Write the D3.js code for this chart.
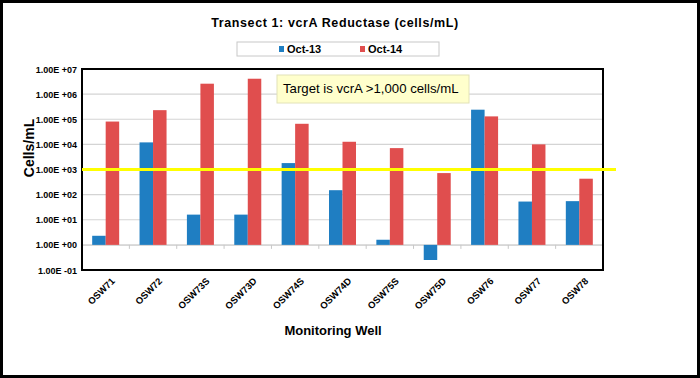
<!DOCTYPE html>
<html><head><meta charset="utf-8">
<script src="https://cdn.jsdelivr.net/npm/d3@7"></script>
<style>body{margin:0;background:#fff}svg{display:block;font-family:"Liberation Sans",Arial,sans-serif}</style>
</head><body><svg id="c" width="700" height="378"></svg>
<script>
const categories = ["OSW71","OSW72","OSW73S","OSW73D","OSW74S","OSW74D","OSW75S","OSW75D","OSW76","OSW77","OSW78"];
const seriesNames = ["Oct-13","Oct-14"];
const oct13 = [2.3, 12000, 16, 16, 1800, 150, 1.6, 0.25, 240000, 53, 55];
const oct14 = [81000, 230000, 2600000, 4100000, 66000, 12700, 7100, 720, 130000, 10000, 430];
const yTicks = [1e-1,1e0,1e1,1e2,1e3,1e4,1e5,1e6,1e7];
const target = 1000;
const colors = ["#1f7ec2","#e04e4e"];

const svg = d3.select("#c");
svg.append("rect").attr("x",1.5).attr("y",1.5).attr("width",697).attr("height",375).attr("fill","#fff").attr("stroke","#000").attr("stroke-width",3);

const L=82,R=603,T=69,B=270;
const x = d3.scaleBand().domain(categories).range([L,R]).paddingInner(0).paddingOuter(0);
const y = d3.scaleLog().domain([1e-1,1e7]).range([B,T]);
const bw = x.bandwidth()*0.285;

// gridlines
svg.append("g").selectAll("line").data(yTicks.slice(1,-1)).join("line")
  .attr("x1",L).attr("x2",R).attr("y1",d=>y(d)).attr("y2",d=>y(d))
  .attr("stroke","#d4d4d4").attr("stroke-width",1.2);

// category axis at 1 with ticks
const axG = svg.append("g").attr("transform",`translate(0,${y(1)})`);
axG.call(d3.axisBottom(x).tickSize(0).tickFormat(""));
axG.select(".domain").attr("stroke","#d4d4d4");
axG.selectAll("line.bt").data(d3.range(1,categories.length)).join("line").attr("class","bt")
  .attr("x1",i=>L+i*x.step()).attr("x2",i=>L+i*x.step()).attr("y1",0).attr("y2",4).attr("stroke","#c8c8c8");

// bars
const series=[oct13,oct14];
series.forEach((vals,si)=>{
  svg.append("g").selectAll("rect").data(vals).join("rect")
    .attr("x",(d,i)=>x(categories[i])+x.bandwidth()/2-bw+si*bw)
    .attr("width",bw)
    .attr("y",d=>Math.min(y(d),y(1)))
    .attr("height",d=>Math.abs(y(d)-y(1)))
    .attr("fill",colors[si]);
});

// plot border
svg.append("rect").attr("x",L).attr("y",T).attr("width",R-L).attr("height",B-T).attr("fill","none").attr("stroke","#000").attr("stroke-width",2);

// y axis labels
const fmt = d=>{const e=Math.round(Math.log10(d));return "1.00E "+(e<0?"-":"+")+String(Math.abs(e)).padStart(2,"0");};
svg.append("g").selectAll("text").data(yTicks).join("text")
  .attr("x",77).attr("y",d=>y(d)+3.5).attr("text-anchor","end")
  .attr("font-size",9).attr("font-weight","bold").text(fmt);

// target line
svg.append("line").attr("x1",L).attr("x2",616).attr("y1",y(target)).attr("y2",y(target))
  .attr("stroke","#ffff00").attr("stroke-width",3);

// target box
svg.append("rect").attr("x",277).attr("y",75).attr("width",192).attr("height",28)
  .attr("fill","#ffffcc").attr("stroke","#e2e2b8");
svg.append("text").attr("x",283).attr("y",93).attr("font-size",13.2).attr("fill","#000")
  .text("Target is vcrA >1,000 cells/mL");

// x labels
svg.append("g").selectAll("text").data(categories).join("text")
  .attr("transform",d=>`translate(${x(d)+x.bandwidth()/2+5},${277}) rotate(-45)`)
  .attr("text-anchor","end").attr("dy","0.7em").attr("font-size",9.5).attr("font-weight","bold").text(d=>d);

// titles
svg.append("text").attr("x",335).attr("y",27).attr("text-anchor","middle").attr("font-size",12.5)
  .attr("font-weight","bold").attr("letter-spacing",0.6).text("Transect 1: vcrA Reductase (cells/mL)");
svg.append("text").attr("x",333).attr("y",335).attr("text-anchor","middle").attr("font-size",13)
  .attr("font-weight","bold").text("Monitoring Well");
svg.append("text").attr("transform","translate(34,148) rotate(-90)").attr("text-anchor","middle")
  .attr("font-size",14).attr("font-weight","bold").text("Cells/mL");

// legend
svg.append("rect").attr("x",237).attr("y",42).attr("width",202).attr("height",14).attr("fill","#fff").attr("stroke","#c8c8c8");
const lx=[279,360];
seriesNames.forEach((n,i)=>{
  svg.append("rect").attr("x",lx[i]).attr("y",46).attr("width",5).attr("height",6).attr("fill",colors[i]);
  svg.append("text").attr("x",lx[i]+8).attr("y",53).attr("font-size",11).attr("font-weight","bold").text(n);
});
</script></body></html>
